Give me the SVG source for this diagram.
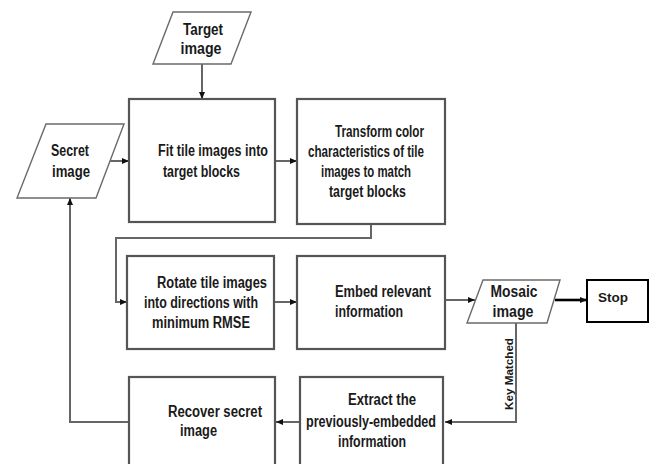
<svg xmlns="http://www.w3.org/2000/svg" width="652" height="464" viewBox="0 0 652 464">
<style>
.box{fill:#fff;stroke:#555;stroke-width:2.2}
.io{fill:#fff;stroke:#6a6a6a;stroke-width:1.4}
.stop{fill:#fff;stroke:#000;stroke-width:2}
.t{font-family:"Liberation Sans Narrow","Liberation Sans",Arial,sans-serif;font-weight:bold;font-size:16px;fill:#1a1a1a}
.c{text-anchor:middle}
.ln{fill:none;stroke:#666;stroke-width:2}
</style>
<defs>
<marker id="ah" markerWidth="8" markerHeight="8" refX="7" refY="4" orient="auto" markerUnits="userSpaceOnUse">
<path d="M0,1 L7,4 L0,7 Z" fill="#111"/>
</marker>
</defs>
<rect width="652" height="464" fill="#fff"/>
<g id="connectors">
<path class="ln" d="M202,64 V99" marker-end="url(#ah)"/>
<path class="ln" d="M109,161 H129" marker-end="url(#ah)"/>
<path class="ln" d="M275,161 H297" marker-end="url(#ah)"/>
<path class="ln" d="M371,224 V238 H116 V302 H127" marker-end="url(#ah)"/>
<path class="ln" d="M274,302 H297" marker-end="url(#ah)"/>
<path class="ln" d="M445,300 H475" marker-end="url(#ah)"/>
<path fill="none" stroke="#000" stroke-width="2.6" d="M555,300 H587" marker-end="url(#ah)"/>
<path class="ln" d="M516,323 V422 H445" marker-end="url(#ah)"/>
<path class="ln" d="M300,422 H276" marker-end="url(#ah)"/>
<path class="ln" d="M129,422 H70 V198" marker-end="url(#ah)"/>
<text class="t" transform="translate(513,374) rotate(-90)" text-anchor="middle" style="font-size:10px" textLength="72" lengthAdjust="spacingAndGlyphs">Key Matched</text>
</g>
<g id="target">
<polygon class="io" points="173,12 251,12 231,64 153,64"/>
<text class="t c" x="203" y="35" textLength="40" lengthAdjust="spacingAndGlyphs">Target</text>
<text class="t c" x="201" y="54" textLength="41" lengthAdjust="spacingAndGlyphs">image</text>
</g>
<g id="secret">
<polygon class="io" points="46,124 124,124 96,198 17,198"/>
<text class="t c" x="70" y="156" textLength="38" lengthAdjust="spacingAndGlyphs">Secret</text>
<text class="t c" x="71" y="177" textLength="38" lengthAdjust="spacingAndGlyphs">image</text>
</g>
<g id="fit">
<rect class="box" x="129" y="99" width="146" height="123"/>
<text class="t" x="158" y="156" textLength="110" lengthAdjust="spacingAndGlyphs">Fit tile images into</text>
<text class="t" x="163" y="177" textLength="77" lengthAdjust="spacingAndGlyphs">target blocks</text>
</g>
<g id="transform">
<rect class="box" x="297" y="99" width="148" height="125"/>
<text class="t" x="335" y="137" textLength="89" lengthAdjust="spacingAndGlyphs">Transform color</text>
<text class="t" x="308" y="157" textLength="116" lengthAdjust="spacingAndGlyphs">characteristics of  tile</text>
<text class="t" x="321" y="177" textLength="90" lengthAdjust="spacingAndGlyphs">images to match</text>
<text class="t" x="329" y="197" textLength="77" lengthAdjust="spacingAndGlyphs">target blocks</text>
</g>
<g id="rotate">
<rect class="box" x="127" y="256" width="147" height="93"/>
<text class="t" x="157" y="288" textLength="110" lengthAdjust="spacingAndGlyphs">Rotate tile images</text>
<text class="t" x="144" y="308" textLength="114" lengthAdjust="spacingAndGlyphs">into directions with</text>
<text class="t" x="152" y="328" textLength="98" lengthAdjust="spacingAndGlyphs">minimum RMSE</text>
</g>
<g id="embed">
<rect class="box" x="297" y="256" width="148" height="93"/>
<text class="t" x="335" y="297" textLength="96" lengthAdjust="spacingAndGlyphs">Embed relevant</text>
<text class="t" x="335" y="317" textLength="68" lengthAdjust="spacingAndGlyphs">information</text>
</g>
<g id="mosaic">
<polygon class="io" points="483,280 560,280 547,323 467,323"/>
<text class="t c" x="514" y="297" textLength="47" lengthAdjust="spacingAndGlyphs">Mosaic</text>
<text class="t c" x="513" y="317" textLength="41" lengthAdjust="spacingAndGlyphs">image</text>
</g>
<g id="stop">
<rect class="stop" x="587" y="280" width="61" height="42"/>
<text class="t" x="598" y="302" style="font-size:12px" textLength="30" lengthAdjust="spacingAndGlyphs">Stop</text>
</g>
<g id="extract">
<rect class="box" x="300" y="377" width="143" height="100"/>
<text class="t" x="348" y="405" textLength="68" lengthAdjust="spacingAndGlyphs">Extract the</text>
<text class="t" x="306" y="427" textLength="130" lengthAdjust="spacingAndGlyphs">previously-embedded</text>
<text class="t" x="338" y="447" textLength="68" lengthAdjust="spacingAndGlyphs">information</text>
</g>
<g id="recover">
<rect class="box" x="129" y="377" width="146" height="100"/>
<text class="t" x="168" y="417" textLength="94" lengthAdjust="spacingAndGlyphs">Recover secret</text>
<text class="t" x="180" y="436" textLength="37" lengthAdjust="spacingAndGlyphs">image</text>
</g>
</svg>
